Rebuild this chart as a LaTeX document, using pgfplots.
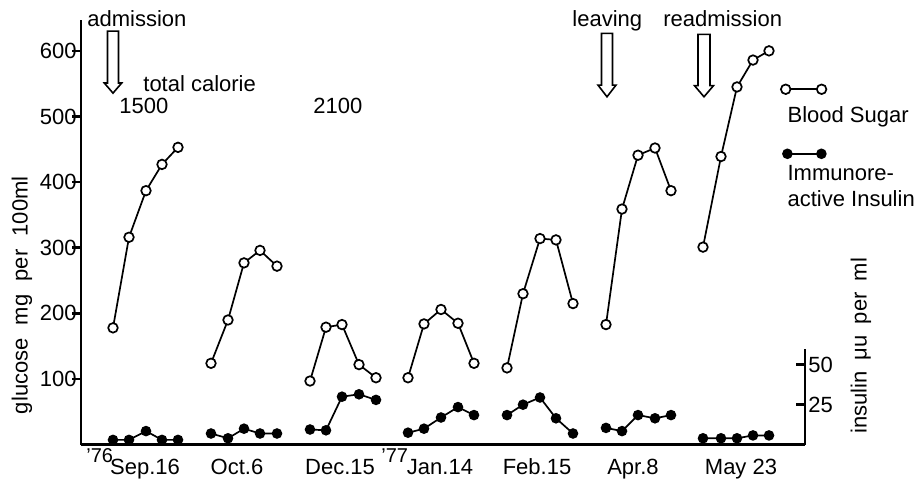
\documentclass[border=0pt]{standalone}
\usepackage{fontspec}
\setmainfont{Liberation Sans}
\usepackage{pgfplots}
\pgfplotsset{compat=1.18}
\pgfplotsset{
  bs/.style={black, line width=0.85pt, mark=*, mark size=2.4pt, mark options={fill=white, line width=0.85pt, solid}},
  ins/.style={black, line width=0.85pt, mark=*, mark size=2.2pt, mark options={fill=black, solid}},
}
\begin{document}
\begin{tikzpicture}[font=\fontsize{11}{13}\selectfont]
\useasboundingbox (-40.5pt,-20.65pt) rectangle (418pt,222.35pt);
\begin{axis}[
  scale only axis, width=362pt, height=212.35pt,
  xmin=81, xmax=805, ymin=0, ymax=647,
  axis x line=bottom, axis y line=left,
  axis line style={-, line width=1.3pt},
  clip=false,
  ytick={100,200,300,400,500,600},
  tick align=outside, major tick length=4.5pt,
  tick style={line width=1.3pt, black},
  yticklabel style={inner sep=0pt, xshift=2.5pt},
  xtick={145,237,340,440,537,633,741},
  xticklabels={Sep.16,Oct.6,Dec.15,Jan.14,Feb.15,Apr.8,May 23},
  xtick style={draw=none},
  xticklabel style={anchor=base, inner sep=0pt, yshift=-10.4pt},
  /pgf/number format/assume math mode=true,
  ylabel={glucose\hspace{0.6em}mg\hspace{0.6em}per\hspace{0.6em}100ml},
  every axis y label/.style={at={(axis description cs:-0.0815,0.352)}, rotate=90, anchor=center},
  legend cell align=left,
  legend style={at={(axis cs:787,516)}, anchor=north west, draw=none, fill=none,
    inner sep=0pt, row sep=20pt, nodes={inner sep=0pt, align=left},
    /tikz/every odd column/.append style={column sep=0pt}},
]
\addplot[bs, legend image code/.code={
  \path[draw=none, fill=none] (0pt,0pt) -- (0.1pt,0pt);
  \draw[overlay, black, line width=0.85pt, mark=none] (-0.85pt,13.3pt) -- (17.1pt,13.3pt);
  \draw[overlay, black, line width=0.85pt, fill=white, mark=none] (-0.85pt,13.3pt) circle (2.4pt) (17.1pt,13.3pt) circle (2.4pt);
}] coordinates {(113,178) (129,316) (146,387) (162,427) (178,453)};
\addlegendentry{Blood Sugar}
\addplot[bs, forget plot] coordinates {(211,124) (228,190) (244,277) (260,296) (277,272)};
\addplot[bs, forget plot] coordinates {(310,97) (326,179) (342,183) (359,122) (376,102)};
\addplot[bs, forget plot] coordinates {(408,102) (424,184) (441,206) (458,185) (474,124)};
\addplot[bs, forget plot] coordinates {(507,117) (523,230) (540,314) (556,312) (573,215)};
\addplot[bs, forget plot] coordinates {(606,183) (622,359) (638,441) (655,452) (671,387)};
\addplot[bs, forget plot] coordinates {(703,301) (721,439) (737,545) (753,586) (769,600)};
\addlegendimage{ins, legend image code/.code={
  \path[draw=none, fill=none] (0pt,0pt) -- (0.1pt,0pt);
  \draw[overlay, black, line width=0.85pt, mark=none] (0pt,16.8pt) -- (17pt,16.8pt);
  \fill[overlay, black, mark=none] (0pt,16.8pt) circle (2.2pt) (17pt,16.8pt) circle (2.2pt);
}}
\addlegendentry{Immunore-\\active Insulin}
% annotations
\draw[line width=0.8pt, fill=white] (axis cs:107.5,630) -- (axis cs:118.5,630) -- (axis cs:118.5,551) -- (axis cs:121.7,551) -- (axis cs:113,535.6) -- (axis cs:104.3,551) -- (axis cs:107.5,551) -- cycle;
\draw[line width=0.8pt, fill=white] (axis cs:601.5,626.6) -- (axis cs:612.5,626.6) -- (axis cs:612.5,547.8) -- (axis cs:616,547.8) -- (axis cs:607,530) -- (axis cs:598,547.8) -- (axis cs:601.5,547.8) -- cycle;
\draw[line width=0.8pt, fill=white] (axis cs:698,625) -- (axis cs:710,625) -- (axis cs:710,547) -- (axis cs:713.5,547) -- (axis cs:704,530) -- (axis cs:694.5,547) -- (axis cs:698,547) -- cycle;
\node[anchor=base west, inner sep=0pt] at (axis cs:87,636.5) {admission};
\node[anchor=base west, inner sep=0pt] at (axis cs:572,636.5) {leaving};
\node[anchor=base west, inner sep=0pt] at (axis cs:663,636.5) {readmission};
\node[anchor=base west, inner sep=0pt] at (axis cs:143,537.6) {total calorie};
\node[anchor=base west, inner sep=0pt] at (axis cs:119,504.7) {1500};
\node[anchor=base west, inner sep=0pt] at (axis cs:313,505) {2100};
\node[anchor=base west, inner sep=0pt, font=\fontsize{10}{12}\selectfont] at (axis cs:86,-26.5) {’76};
\node[anchor=base west, inner sep=0pt, font=\fontsize{10}{12}\selectfont] at (axis cs:381,-27.5) {’77};
\end{axis}
\begin{axis}[
  scale only axis, width=362pt, height=48pt,
  xmin=81, xmax=805, ymin=0, ymax=60,
  axis x line=none, axis y line*=right,
  axis line style={-, line width=1.3pt},
  clip=false,
  ytick={25,50},
  tick align=inside, major tick length=4.5pt,
  tick style={line width=1.3pt, black},
  yticklabel style={inner sep=0pt, xshift=1.5pt},
  /pgf/number format/assume math mode=true,
  ylabel={insulin\hspace{0.5em}μu\hspace{0.5em}per\hspace{0.5em}ml},
  every axis y label/.style={at={(axis description cs:1.0773,1.031)}, rotate=90, anchor=center},
]
\addplot[ins] coordinates {(113,3) (129,3) (146,8.5) (162,3) (178,3)};
\addplot[ins] coordinates {(211,7) (228,4) (244,10) (260,7) (277,7)};
\addplot[ins] coordinates {(310,9.5) (326,9) (342,30) (359,31.5) (376,28)};
\addplot[ins] coordinates {(408,7.5) (424,10) (441,17) (458,23.5) (474,18.5)};
\addplot[ins] coordinates {(507,18.5) (523,25) (540,29.5) (556,16.5) (573,7)};
\addplot[ins] coordinates {(606,10.5) (622,8.5) (638,18.5) (655,16.5) (671,18.5)};
\addplot[ins] coordinates {(703,4) (721,4) (737,4) (753,5.8) (769,5.8)};
\end{axis}
\end{tikzpicture}
\end{document}
